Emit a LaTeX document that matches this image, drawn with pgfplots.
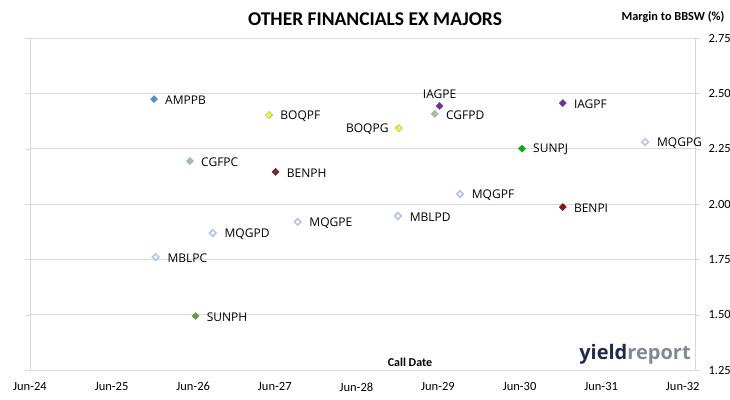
\documentclass[border=0pt]{standalone}
\usepackage{pgfplots}
\pgfplotsset{compat=1.18}
\usepackage{fontspec}
\setmainfont{Carlito}
\newfontfamily\labfont{Open Sans}
\definecolor{gridc}{HTML}{D9D9D9}
\definecolor{ampc}{HTML}{4F8FD8}
\definecolor{boqc}{HTML}{FFFF00}
\definecolor{boqe}{HTML}{A0AEC0}
\definecolor{cgfc}{HTML}{B3BF86}
\definecolor{cgfe}{HTML}{8DB4E2}
\definecolor{benh}{HTML}{7F2A2A}
\definecolor{beni}{HTML}{9C0A0A}
\definecolor{iagc}{HTML}{7030A0}
\definecolor{sunj}{HTML}{00B000}
\definecolor{sunh}{HTML}{5E9E3E}
\definecolor{mqc}{HTML}{B4C6E7}
\definecolor{logon}{HTML}{1F2A4E}
\definecolor{logog}{HTML}{7F8A96}
\begin{document}
\begin{tikzpicture}
\path[use as bounding box] (0,0) rectangle (730pt,399pt);
\begin{axis}[
  at={(30pt,29pt)}, anchor=south west,
  scale only axis, width=665pt, height=332pt,
  xmin=0, xmax=8.15, ymin=1.25, ymax=2.75,
  axis line style={gridc},
  xtick={0,1,2,3,4,5,6,7,8},
  xticklabels={Jun-24,Jun-25,Jun-26,Jun-27,Jun-28,Jun-29,Jun-30,Jun-31,Jun-32},
  x tick style={draw=none},
  ytick={1.25,1.5,1.75,2,2.25,2.5,2.75},
  yticklabel pos=right,
  y tick style={gridc},
  tick align=outside, major tick length=5pt,
  ymajorgrids, grid style={gridc},
  yticklabel style={/pgf/number format/fixed, /pgf/number format/fixed zerofill, /pgf/number format/precision=2, /pgf/number format/assume math mode=true, xshift=5pt},
  tick label style={font=\fontsize{12.5}{14}\selectfont, text=black},
  xticklabel style={yshift=-4pt},
  clip=false,
  nodes near coords,
  point meta=explicit symbolic,
  every node near coord/.append style={anchor=west, xshift=11pt, yshift=-1pt, inner sep=0pt, font=\labfont\fontsize{12}{14}\selectfont, text=black},
  mark=square*, mark size=2.5pt,
]
% AMPPB
\addplot[only marks, mark options={rotate=45, fill=ampc, draw=ampc}] table[meta=label] {
x y label
1.52 2.474 AMPPB
};
% BOQ
\addplot[only marks, mark options={rotate=45, fill=boqc, draw=boqe, line width=0.6pt}] table[meta=label] {
x y label
2.93 2.402 BOQPF
};
\addplot[only marks, mark options={rotate=45, fill=boqc, draw=boqe, line width=0.6pt},
  every node near coord/.append style={anchor=east, xshift=-21pt}] table[meta=label] {
x y label
4.52 2.343 BOQPG
};
% CGF
\addplot[only marks, mark options={rotate=45, fill=cgfc, draw=cgfe, line width=0.6pt}] table[meta=label] {
x y label
1.96 2.194 CGFPC
4.96 2.407 CGFPD
};
% BEN
\addplot[only marks, mark options={rotate=45, fill=benh, draw=benh!70!black}] table[meta=label] {
x y label
3.01 2.145 BENPH
};
\addplot[only marks, mark options={rotate=45, fill=beni, draw=beni!70!black}] table[meta=label] {
x y label
6.53 1.986 BENPI
};
% IAG
\addplot[only marks, mark options={rotate=45, fill=iagc, draw=iagc},
  every node near coord/.append style={anchor=south, xshift=-11pt, yshift=8pt}] table[meta=label] {
x y label
5.02 2.443 IAGPE
};
\addplot[only marks, mark options={rotate=45, fill=iagc, draw=iagc}] table[meta=label] {
x y label
6.53 2.456 IAGPF
};
% SUN
\addplot[only marks, mark options={rotate=45, fill=sunj, draw=sunj}] table[meta=label] {
x y label
6.03 2.250 SUNPJ
};
\addplot[only marks, mark options={rotate=45, fill=sunh, draw=sunh}] table[meta=label] {
x y label
2.03 1.494 SUNPH
};
% MQG / MBL hollow
\addplot[only marks, mark size=2.3pt, mark options={rotate=45, fill=white, draw=mqc, line width=1.7pt}] table[meta=label] {
x y label
5.27 2.045 MQGPF
7.54 2.280 MQGPG
4.51 1.946 MBLPD
3.28 1.919 MQGPE
2.24 1.869 MQGPD
1.54 1.760 MBLPC
};
\end{axis}
\node[font=\bfseries\fontsize{19.5}{22}\selectfont] at (375pt,380pt) {OTHER FINANCIALS EX MAJORS};
\node[font=\bfseries\fontsize{12.3}{14}\selectfont, anchor=east] at (728pt,382pt) {Margin to BBSW (\%)};
\node[font=\bfseries\fontsize{12}{14}\selectfont] at (410pt,37pt) {Call Date};
\node[font=\labfont\bfseries\fontsize{20}{22}\selectfont, anchor=center, inner sep=0pt] at (635pt,45pt) {\textcolor{logon}{yield}\textcolor{logog}{report}};
\end{tikzpicture}
\end{document}
